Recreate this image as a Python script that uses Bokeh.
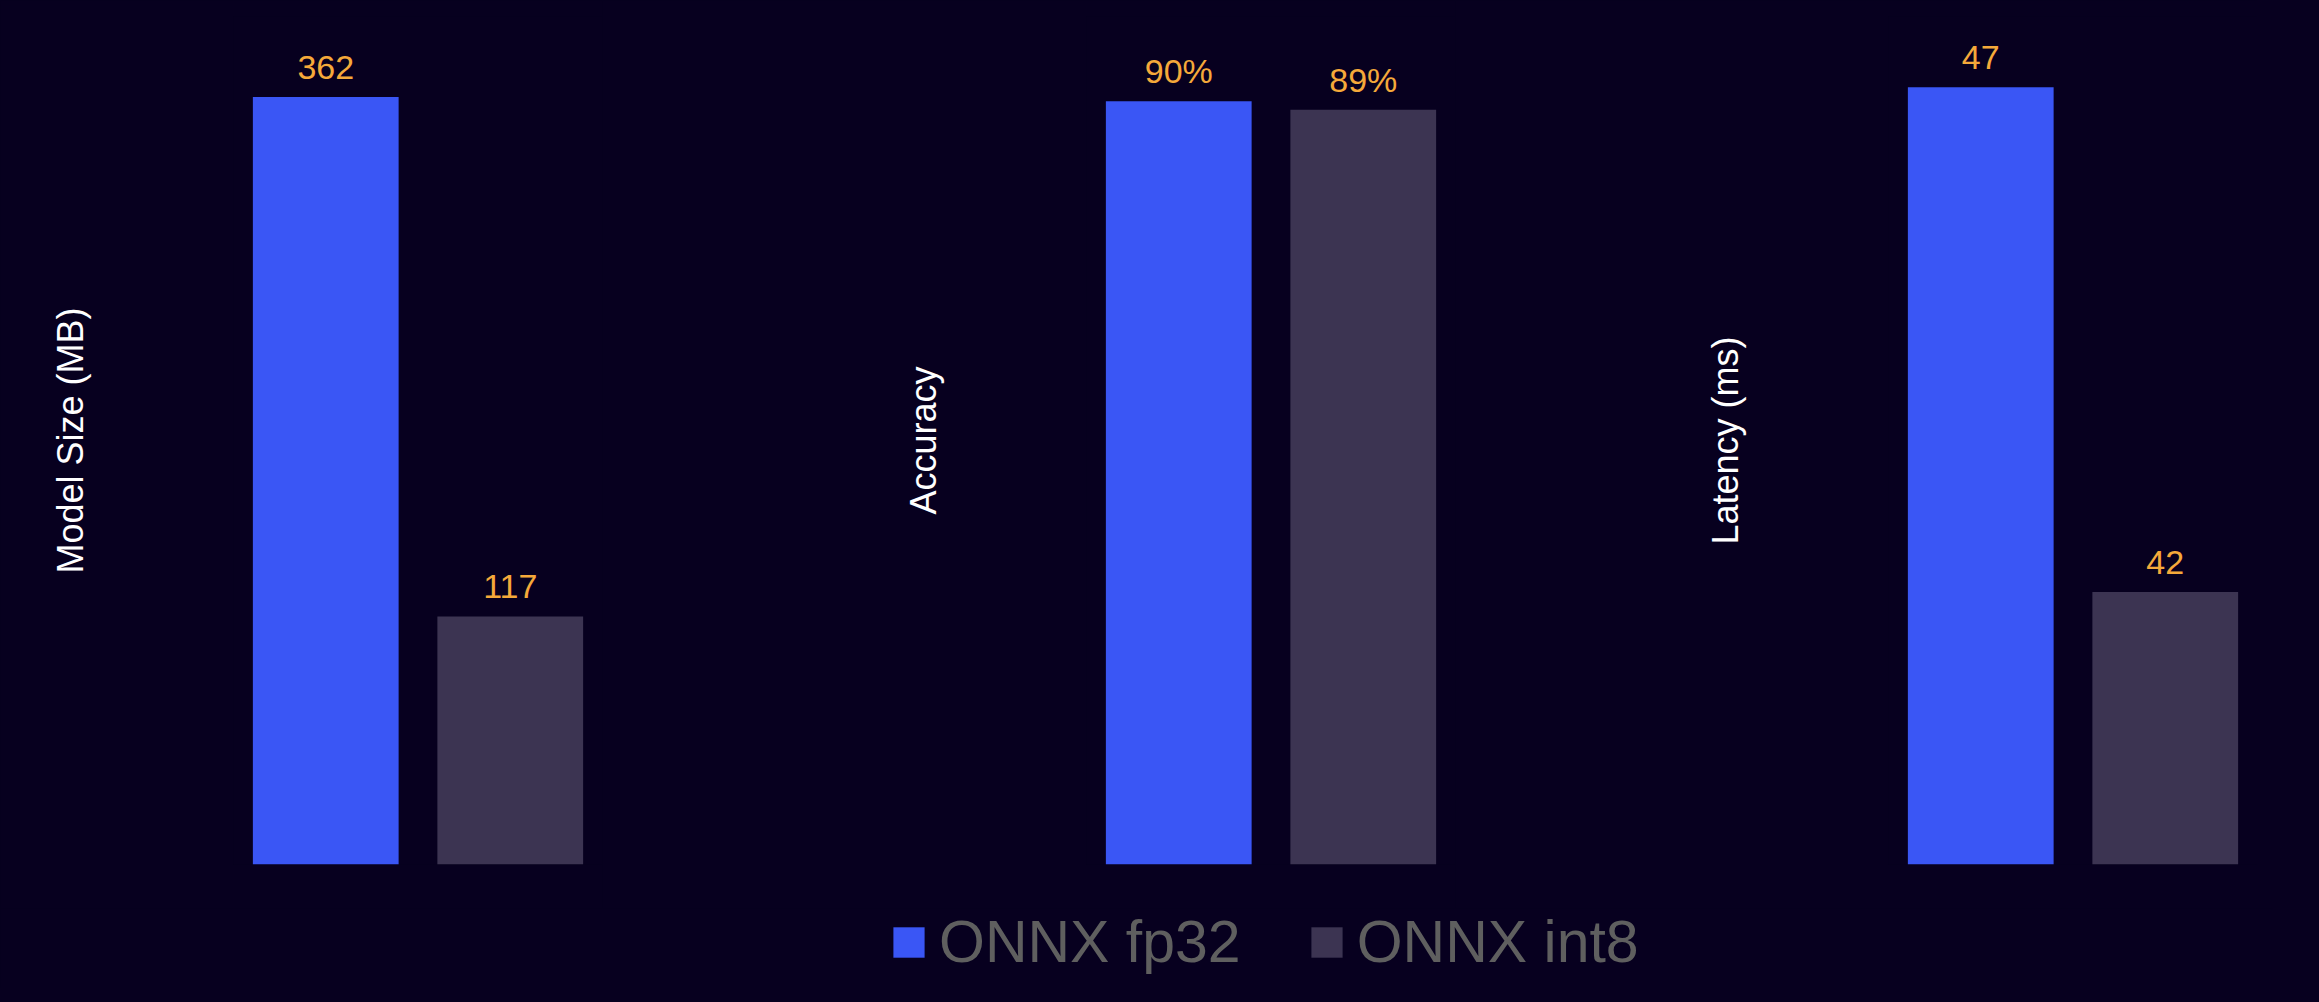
from bokeh.plotting import figure
from bokeh.models import (ColumnDataSource, FactorRange, Range1d, FixedTicker,
                          LabelSet, Legend, LegendItem, GlobalInlineStyleSheet)
from bokeh.layouts import row, column
from bokeh.core.properties import value
from bokeh.embed import file_html
from bokeh.resources import INLINE

# ---- data ----
metrics = ["Model Size (MB)", "Accuracy", "Latency (ms)"]
series = ["ONNX fp32", "ONNX int8"]
fp32_values = [362, 90, 47]
int8_values = [117, 89, 42]
label_suffix = ["", "%", ""]
y_starts = [0, 0, 39.3]
y_ends = [400, 100, 47.7]

# ---- style ----
BG = "#07001F"
BAR_COLORS = ["#3A56F5", "#3C3452"]
VALUE_COLOR = "#F5A93A"
LEGEND_TEXT = "#5F5F5F"
FONT = "Liberation Sans"

left_borders = [233, 484, 433]
FRAME_W = 369
FRAME_H = 848
TOP = 16
BOTTOM = 44

figs = []
for i, metric in enumerate(metrics):
    vals = [fp32_values[i], int8_values[i]]
    src = ColumnDataSource(dict(
        x=series, top=vals, bottom=[y_starts[i]] * len(vals), color=BAR_COLORS,
        label=[f"{v}{label_suffix[i]}" for v in vals]))
    p = figure(x_range=FactorRange(factors=series, range_padding=0),
               y_range=Range1d(y_starts[i], y_ends[i]),
               frame_width=FRAME_W, frame_height=FRAME_H,
               min_border_left=left_borders[i], min_border_right=0,
               min_border_top=TOP, min_border_bottom=BOTTOM,
               x_axis_location=None,
               toolbar_location=None, output_backend="svg",
               background_fill_color=BG, border_fill_color=BG,
               outline_line_color=None)
    p.vbar(x="x", top="top", bottom="bottom", width=0.79, fill_color="color",
           line_color=None, source=src)
    p.add_layout(LabelSet(x="x", y="top", text="label", source=src,
                          text_align="center", text_baseline="alphabetic",
                          y_offset=18, text_font_size="34px",
                          text_color=VALUE_COLOR, text_font=value(FONT)))
    p.xgrid.visible = False
    p.ygrid.visible = False
    ax = p.yaxis[0]
    ax.ticker = FixedTicker(ticks=[])
    ax.axis_label = metric
    ax.axis_label_text_font = FONT
    ax.axis_label_text_font_size = "36px"
    ax.axis_label_text_font_style = "normal"
    ax.axis_label_text_color = "white"
    ax.axis_label_standoff = 143
    ax.axis_line_color = None
    ax.major_tick_line_color = None
    ax.minor_tick_line_color = None
    ax.major_label_standoff = 0
    figs.append(p)

# ---- legend ----
lp = figure(x_range=FactorRange(factors=series), y_range=Range1d(0, 1),
            frame_width=2273, frame_height=80, min_border=0,
            x_axis_location=None, y_axis_location=None,
            toolbar_location=None, output_backend="svg",
            background_fill_color=BG, border_fill_color=BG,
            outline_line_color=None)
lp.xgrid.visible = False
lp.ygrid.visible = False
items = []
for s, c, v in zip(series, BAR_COLORS, fp32_values):
    r = lp.vbar(x=[s], top=[v], width=0.79, fill_color=c, line_color=None,
                visible=False)
    items.append(LegendItem(label=s, renderers=[r]))
legend = Legend(items=items, orientation="horizontal", location=(889, 12),
                glyph_width=39, glyph_height=38,
                label_text_font=FONT, label_text_font_size="59px",
                label_text_color=LEGEND_TEXT, label_standoff=11, spacing=66,
                padding=0, margin=0, border_line_color=None,
                background_fill_alpha=0)
lp.add_layout(legend)

layout = column(row(*figs), lp,
                stylesheets=[GlobalInlineStyleSheet(css=f"body {{ background-color: {BG}; }}")])

open("out.html", "w").write(file_html(layout, INLINE))
